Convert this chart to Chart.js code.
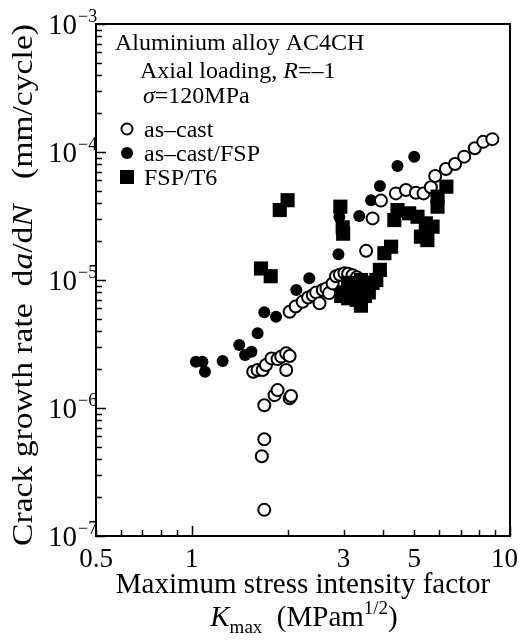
<!DOCTYPE html>
<html><head><meta charset="utf-8">
<script src="https://cdn.jsdelivr.net/npm/chart.js@4/dist/chart.umd.min.js"></script>
<style>html,body{margin:0;padding:0;background:#fff;}#wrap{width:520px;height:644px;}</style>
</head><body><div id="wrap"><canvas id="c" width="520" height="644"></canvas></div>
<script>
// ---- Data ----
const asCastK = [1.69,1.66,1.69,1.69,1.82,1.86,2.03,2.05,1.56,1.61,1.67,1.71,1.78,1.86,1.91,1.98,1.98,2.03,
  2.03,2.12,2.23,2.32,2.40,2.46,2.52,2.58,2.65,2.70,2.77,2.84,2.92,3.02,3.10,3.20,3.30,
  3.53,3.70,3.93,4.38,4.71,5.06,5.35,5.64,5.82,6.29,6.72,7.18,7.75,8.24,8.80];
const asCastRate = [1.6e-7,4.2e-7,5.7e-7,1.05e-6,1.26e-6,1.38e-6,1.19e-6,1.24e-6,1.92e-6,1.98e-6,1.98e-6,2.17e-6,2.44e-6,2.41e-6,2.52e-6,2.68e-6,1.98e-6,2.55e-6,
  5.65e-6,6.2e-6,6.76e-6,7.3e-6,7.6e-6,8.0e-6,6.58e-6,8.35e-6,8.6e-6,7.9e-6,9.4e-6,1.07e-5,1.1e-5,1.13e-5,1.12e-5,1.09e-5,1.05e-5,
  1.69e-5,3.03e-5,4.17e-5,4.75e-5,5.05e-5,4.81e-5,4.75e-5,5.3e-5,6.5e-5,7.36e-5,8.06e-5,9.2e-5,1.07e-4,1.2e-4,1.26e-4];
const fspK = [1.03,1.08,1.10,1.25,1.41,1.47,1.54,1.61,1.69,1.84,2.13,2.34,2.89,2.91,3.36,3.66,3.90,4.43,5.00];
const fspRate = [2.3e-6,2.3e-6,1.92e-6,2.33e-6,3.1e-6,2.6e-6,2.75e-6,3.83e-6,5.6e-6,5.17e-6,8.35e-6,1.03e-5,1.59e-5,3.1e-5,3.16e-5,4.2e-5,5.42e-5,7.78e-5,9.2e-5];
const t6K = [1.65,1.77,1.89,2.00,2.93,2.98,2.99,
  2.95,3.00,3.10,3.20,3.30,3.40,3.50,3.50,3.60,3.70,3.80,3.90,3.30,3.10,3.40,
  4.03,4.23,4.33,4.43,4.82,5.12,5.25,5.44,5.50,5.71,5.92,5.92,6.31];
const t6Rate = [1.23e-5,1.07e-5,3.52e-5,4.2e-5,3.74e-5,2.58e-5,2.3e-5,
  7.5e-6,8.0e-6,7.2e-6,8.5e-6,7.0e-6,6.3e-6,7.5e-6,9.0e-6,8.0e-6,9.5e-6,1.0e-5,1.2e-5,9.0e-6,9.5e-6,1.0e-5,
  1.62e-5,1.82e-5,2.94e-5,3.52e-5,3.32e-5,3.12e-5,2.18e-5,2.77e-5,2.05e-5,2.61e-5,3.74e-5,4.48e-5,5.36e-5];
const xTickValues = [0.5,1,3,5,10];
const xTickLabels = ['0.5','1','3','5','10'];
const yTickExponents = [-3,-4,-5,-6,-7];
const seriesNames = ['as\u2013cast','as\u2013cast/FSP','FSP/T6'];

const SERIF = '"Liberation Serif","Times New Roman",serif';
function pts(xs, ys){ return xs.map((x,i)=>({x:x,y:ys[i]})); }

function measureRich(ctx, parts){
  let w=0;
  parts.forEach(p=>{ ctx.font=(p.italic?'italic ':'')+p.size+'px '+SERIF; p.w=ctx.measureText(p.t).width; w+=p.w; });
  return w;
}
function drawRich(ctx, parts, x, y, align){
  const w = measureRich(ctx, parts);
  let cx = align==='center' ? x-w/2 : align==='right' ? x-w : x;
  parts.forEach(p=>{ ctx.font=(p.italic?'italic ':'')+p.size+'px '+SERIF; ctx.textAlign='left'; ctx.fillText(p.t, cx, y+(p.dy||0)); cx+=p.w; });
  return w;
}

const decor = {
  id:'decor',
  afterDraw(chart){
    const ctx = chart.ctx, xs = chart.scales.x, ys = chart.scales.y, a = chart.chartArea;
    ctx.save();
    ctx.fillStyle='#000'; ctx.strokeStyle='#000';
    // frame
    ctx.lineWidth=2;
    ctx.strokeRect(a.left, a.top, a.right-a.left, a.bottom-a.top);
    // y ticks
    ctx.lineWidth=1.5;
    for(let e=-7;e<=-3;e++){
      for(let m=1;m<=9;m++){
        if(e===-3 && m>1) break;
        const v = m*Math.pow(10,e);
        const py = Math.round(ys.getPixelForValue(v))+0.5;
        const len = m===1?10:6;
        ctx.beginPath(); ctx.moveTo(a.left, py); ctx.lineTo(a.left+len, py); ctx.stroke();
      }
    }
    // x ticks
    const xt=[0.5,0.6,0.7,0.8,0.9,1,2,3,4,5,6,7,8,9,10];
    xt.forEach(v=>{
      const px = Math.round(xs.getPixelForValue(v))+0.5;
      const len = (v===1||v===10)?10:6;
      ctx.beginPath(); ctx.moveTo(px, a.bottom); ctx.lineTo(px, a.bottom-len); ctx.stroke();
    });
    // y tick labels
    ctx.textBaseline='alphabetic';
    yTickExponents.forEach(e=>{
      const py = ys.getPixelForValue(Math.pow(10,e));
      ctx.font='29px '+SERIF; ctx.textAlign='right';
      ctx.fillText('10', 77, py+10);
      ctx.font='18px '+SERIF; ctx.textAlign='left';
      ctx.fillText('\u2212'+(-e), 78, py-2);
    });
    // x tick labels
    ctx.font='27px '+SERIF;
    xTickValues.forEach((v,i)=>{
      let px = xs.getPixelForValue(v);
      const w = ctx.measureText(xTickLabels[i]).width;
      if(px + w/2 > 518) px = 518 - w/2;
      ctx.textAlign='center';
      ctx.fillText(xTickLabels[i], px, 567);
    });
    // x title
    const cx = (a.left+a.right)/2;
    ctx.font='29px '+SERIF; ctx.textAlign='center';
    ctx.fillText('Maximum stress intensity factor', cx, 593);
    drawRich(ctx,[{t:'K',size:29,italic:true},{t:'max',size:19,dy:7},{t:'  (MPam',size:29},{t:'1/2',size:19,dy:-12},{t:')',size:29}], cx+1, 626, 'center');
    // y title (stretched along its length as in the original)
    const yParts=[{t:'Crack growth rate  d',size:29},{t:'a',size:29,italic:true},{t:'/d',size:29},{t:'N',size:29,italic:true},{t:'   (mm/cycle)',size:29}];
    const yw = measureRich(ctx, yParts);
    ctx.save();
    ctx.translate(32, 285);
    ctx.rotate(-Math.PI/2);
    ctx.scale(522/yw, 1);
    drawRich(ctx,yParts,0,0,'center');
    ctx.restore();
    // annotation text
    drawRich(ctx,[{t:'Aluminium alloy AC4CH',size:24}],115,50,'left');
    drawRich(ctx,[{t:'Axial loading, ',size:24},{t:'R',size:24,italic:true},{t:'=\u20131',size:24}],140,78,'left');
    drawRich(ctx,[{t:'\u03c3',size:24,italic:true},{t:'=120MPa',size:24}],143,103,'left');
    // legend
    const lx=127, tx=144, rows=[129,153,177];
    ctx.lineWidth=2;
    ctx.beginPath(); ctx.arc(lx, rows[0], 5.5, 0, Math.PI*2); ctx.fillStyle='#fff'; ctx.fill(); ctx.stroke();
    ctx.fillStyle='#000';
    ctx.beginPath(); ctx.arc(lx, rows[1], 6, 0, Math.PI*2); ctx.fill();
    ctx.fillRect(lx-7, rows[2]-7, 14, 14);
    seriesNames.forEach((n,i)=>drawRich(ctx,[{t:n,size:24}],tx,rows[i]+8,'left'));
    ctx.restore();
  }
};

new Chart(document.getElementById('c'), {
  type:'scatter',
  data:{datasets:[
    {label:seriesNames[2], data:pts(t6K,t6Rate), pointStyle:'rect', pointRadius:10, backgroundColor:'#000', borderColor:'#000', borderWidth:0},
    {label:seriesNames[0], data:pts(asCastK,asCastRate), pointStyle:'circle', pointRadius:6, backgroundColor:'#fff', borderColor:'#000', borderWidth:2},
    {label:seriesNames[1], data:pts(fspK,fspRate), pointStyle:'circle', pointRadius:6, backgroundColor:'#000', borderColor:'#000', borderWidth:0}
  ]},
  options:{
    responsive:false, animation:false, devicePixelRatio:1,
    layout:{padding:{left:0,right:9,top:24,bottom:0}},
    plugins:{legend:{display:false}, tooltip:{enabled:false}},
    scales:{
      x:{type:'logarithmic', min:0.5, max:10, ticks:{display:false}, grid:{display:false}, border:{display:false},
         afterFit(s){ s.height = 108; }},
      y:{type:'logarithmic', min:1e-7, max:1e-3, ticks:{display:false}, grid:{display:false}, border:{display:false},
         afterFit(s){ s.width = 96; }}
    }
  },
  plugins:[decor]
});
</script></body></html>
